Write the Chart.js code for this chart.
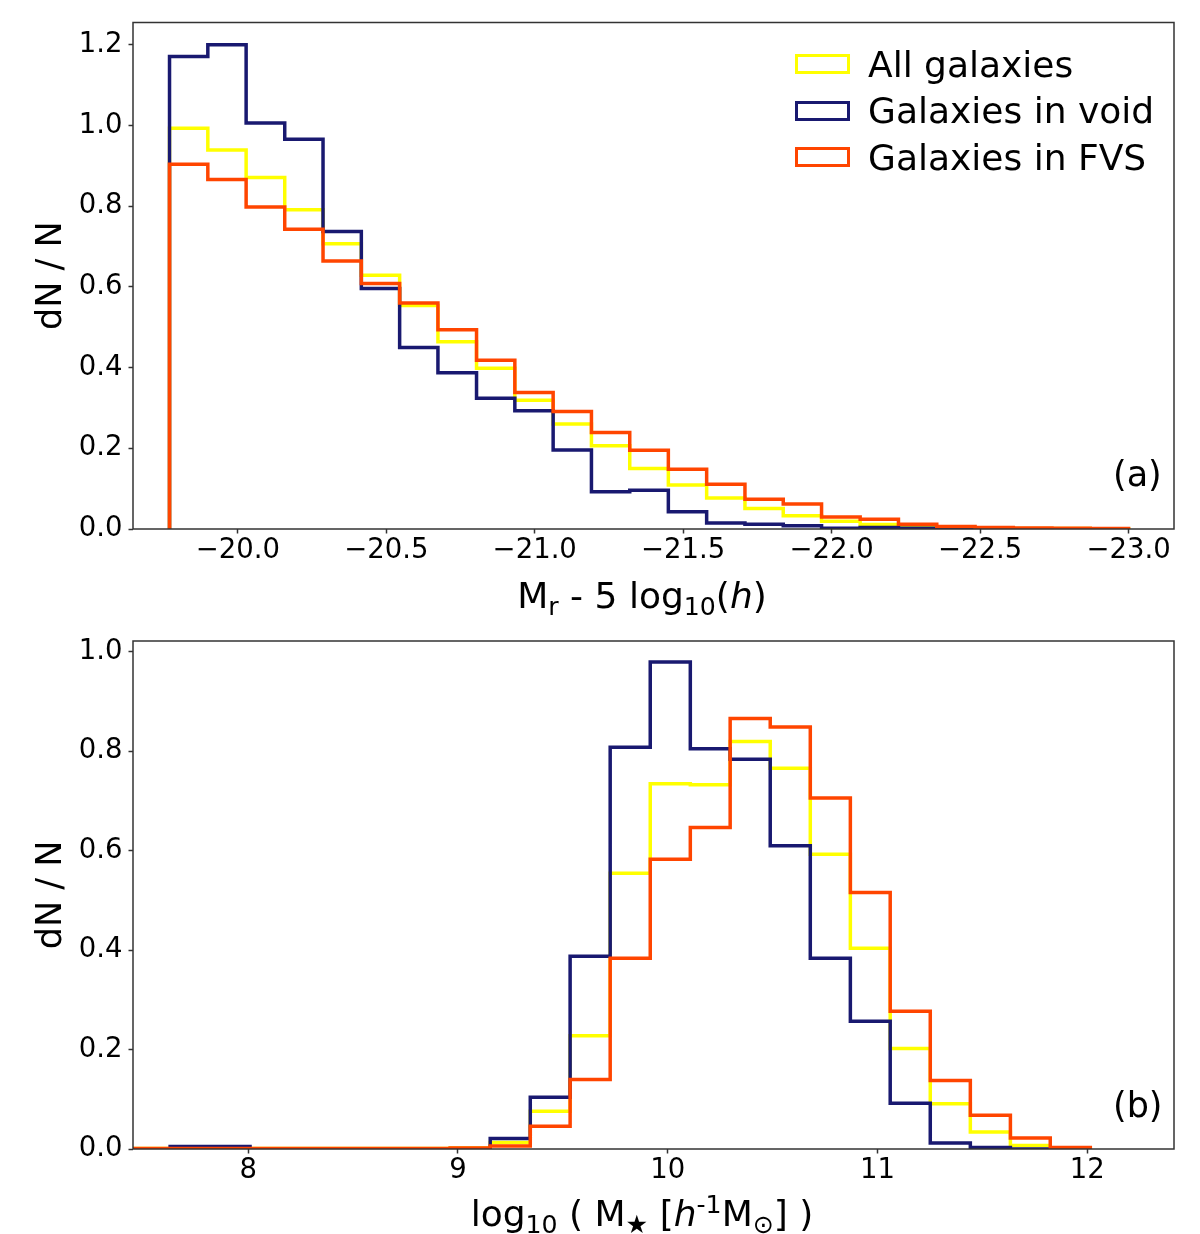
<!DOCTYPE html>
<html lang="en">
<head>
<meta charset="UTF-8" />
<title>Luminosity and stellar mass distributions</title>
<script src="https://cdn.jsdelivr.net/npm/chart.js@4.4.0/dist/chart.umd.min.js"></script>
<style>
  body { margin: 0; background: #fff; font-family: "DejaVu Sans", sans-serif; color: #000; }
  #page { position: relative; width: 1200px; height: 1234px; }
  .panel { position: absolute; left: 0; width: 1200px; height: 617px; }
  .txt { position: absolute; white-space: nowrap; line-height: 1; }
  .xtitle { font-size: 36px; transform: translateX(-50%); }
  .tag { font-size: 35px; }
  sub { font-size: 0.7em; vertical-align: -0.28em; line-height: 0; }
  sup { font-size: 0.7em; vertical-align: 0.5em; line-height: 0; }
  .row { position: absolute; left: 795px; height: 36px; display: flex; align-items: center; font-size: 36px; }
  .box { width: 55px; height: 20px; box-sizing: border-box; border: 3.5px solid; margin-right: 18px; }
</style>
</head>
<body>
<div id="page">
  <canvas id="magChart" class="panel" style="top:0" width="1200" height="617"></canvas>
  <canvas id="massChart" class="panel" style="top:617px" width="1200" height="617"></canvas>

  <div class="txt xtitle" style="left:642px; top:578px">M<sub>r</sub> - 5 log<sub>10</sub>(<i>h</i>)</div>
  <div class="txt xtitle" style="left:642px; top:1196px">log<sub>10</sub> ( M<sub>&#9733;</sub> [<i>h</i><sup>-1</sup>M<sub>&#8857;</sub>] )</div>
  <div class="txt tag" style="left:1113px; top:457px">(a)</div>
  <div class="txt tag" style="left:1113px; top:1088px">(b)</div>
  <div id="legend"></div>
</div>

<script>
  // (a) absolute magnitude histogram, 25 bins
  const magEdges = [-19.770, -19.899, -20.028, -20.158, -20.287, -20.416, -20.545, -20.674, -20.804,
    -20.933, -21.062, -21.191, -21.320, -21.450, -21.579, -21.708, -21.837, -21.966, -22.096,
    -22.225, -22.354, -22.483, -22.612, -22.742, -22.871, -23.000];
  const magAll = [0.993, 0.939, 0.871, 0.791, 0.707, 0.629, 0.554, 0.464, 0.398, 0.319, 0.260, 0.206,
    0.150, 0.109, 0.077, 0.051, 0.033, 0.019, 0.011, 0.006, 0.003, 0.002, 0.001, 0.001, 0.0005];
  const magVoid = [1.171, 1.200, 1.006, 0.966, 0.737, 0.596, 0.450, 0.387, 0.324, 0.293, 0.196, 0.092,
    0.096, 0.043, 0.015, 0.012, 0.008, 0.002, 0.004, 0.002, 0, 0, 0, 0, 0];
  const magFvs = [0.904, 0.866, 0.798, 0.743, 0.664, 0.608, 0.560, 0.494, 0.418, 0.338, 0.291, 0.239,
    0.195, 0.148, 0.111, 0.074, 0.062, 0.030, 0.024, 0.012, 0.006, 0.004, 0.0025, 0.002, 0.001];
  const magTicks = [-20.0, -20.5, -21.0, -21.5, -22.0, -22.5, -23.0];
  const fracTicksA = [0, 0.2, 0.4, 0.6, 0.8, 1.0, 1.2];

  // (b) stellar mass histogram, 24 bins
  const massEdges = [7.437, 7.628, 7.819, 8.009, 8.200, 8.391, 8.582, 8.772, 8.963, 9.154, 9.345,
    9.535, 9.726, 9.917, 10.108, 10.298, 10.489, 10.680, 10.871, 11.061, 11.252, 11.443, 11.634,
    11.824, 12.015];
  const massAll = [0.001, 0.001, 0.001, 0.001, 0.001, 0.001, 0.001, 0.001, 0.002, 0.013, 0.076, 0.228,
    0.555, 0.735, 0.733, 0.820, 0.766, 0.593, 0.404, 0.202, 0.091, 0.034, 0.007, 0.002];
  const massVoid = [0, 0.005, 0.005, 0, 0, 0, 0, 0, 0, 0.021, 0.104, 0.388,
    0.808, 0.980, 0.805, 0.784, 0.610, 0.384, 0.257, 0.092, 0.012, 0.003, 0, 0];
  const massFvs = [0.001, 0.001, 0.001, 0.001, 0.001, 0.001, 0.001, 0.001, 0.002, 0.006, 0.046, 0.140,
    0.384, 0.583, 0.647, 0.866, 0.849, 0.706, 0.516, 0.277, 0.138, 0.068, 0.022, 0.003];
  const massTicks = [8, 9, 10, 11, 12];
  const fracTicksB = [0, 0.2, 0.4, 0.6, 0.8, 1.0];

  const seriesLabels = ["All galaxies", "Galaxies in void", "Galaxies in FVS"];
  const seriesColors = ["#ffff00", "#191970", "#ff4500"];

  Chart.defaults.font.family = "'DejaVu Sans', sans-serif";
  Chart.defaults.color = "#000";

  // step outline: up at the first edge, across each bin, down at the last edge
  function outline(edges, values) {
    const pts = [{ x: edges[0], y: 0 }];
    values.forEach((v, i) => pts.push({ x: edges[i], y: v }));
    pts.push({ x: edges[edges.length - 1], y: 0 });
    return pts;
  }

  const framePlugin = {
    id: "frame",
    afterDatasetsDraw(chart) {
      const { ctx, chartArea: a } = chart;
      ctx.save();
      ctx.strokeStyle = "#333";
      ctx.lineWidth = 1.5;
      ctx.strokeRect(a.left, a.top, a.right - a.left, a.bottom - a.top);
      ctx.restore();
    },
  };

  function axisGrid() {
    return { display: true, drawOnChartArea: false, drawTicks: true, tickLength: 4.5, tickColor: "#333", tickWidth: 1.5 };
  }

  function makeChart(id, edges, series, x, y) {
    new Chart(document.getElementById(id), {
      type: "line",
      data: {
        datasets: series.map((vals, i) => ({
          label: seriesLabels[i],
          data: outline(edges, vals),
          borderColor: seriesColors[i],
          borderWidth: 3.5,
          stepped: "before",
          pointRadius: 0,
          fill: false,
          clip: 0,
          order: series.length - i, // later series drawn on top, as in the original
        })),
      },
      options: {
        responsive: false,
        animation: false,
        events: [],
        layout: { padding: { left: 0, top: y.top, right: 26, bottom: 0 } },
        plugins: { legend: { display: false }, tooltip: { enabled: false } },
        scales: {
          x: {
            type: "linear",
            min: x.min,
            max: x.max,
            reverse: x.reverse,
            grid: axisGrid(),
            border: { display: false },
            afterFit: (s) => { s.height = x.height; },
            afterBuildTicks: (s) => { s.ticks = x.ticks.map((v) => ({ value: v })); },
            ticks: {
              autoSkip: false,
              maxRotation: 0,
              padding: 1,
              font: { size: 27.5 },
              callback: x.format,
            },
          },
          y: {
            min: 0,
            max: y.max,
            grid: axisGrid(),
            border: { display: false },
            afterFit: (s) => { s.width = 133; },
            afterBuildTicks: (s) => { s.ticks = y.ticks.map((v) => ({ value: v })); },
            title: { display: true, text: "dN / N", font: { size: 35 }, padding: { top: 31, bottom: 0 } },
            ticks: {
              padding: 6,
              font: { size: 27.5 },
              callback: (v) => v.toFixed(1),
            },
          },
        },
      },
      plugins: [framePlugin],
    });
  }

  makeChart("magChart", magEdges, [magAll, magVoid, magFvs],
    { min: -23.153, max: -19.647, reverse: true, ticks: magTicks, height: 88,
      format: (v) => v.toFixed(1).replace("-", "\u2212") },
    { max: 1.255, top: 21, ticks: fracTicksA });

  makeChart("massChart", massEdges, [massAll, massVoid, massFvs],
    { min: 7.451, max: 12.414, reverse: false, ticks: massTicks, height: 85,
      format: (v) => String(v) },
    { max: 1.022, top: 24, ticks: fracTicksB });

  // legend inside panel (a)
  const legend = document.getElementById("legend");
  seriesLabels.forEach((name, i) => {
    const row = document.createElement("div");
    row.className = "row";
    row.style.top = (64 + i * 46.5 - 18) + "px";
    const box = document.createElement("div");
    box.className = "box";
    box.style.borderColor = seriesColors[i];
    row.appendChild(box);
    row.appendChild(document.createTextNode(name));
    legend.appendChild(row);
  });
</script>
</body>
</html>
